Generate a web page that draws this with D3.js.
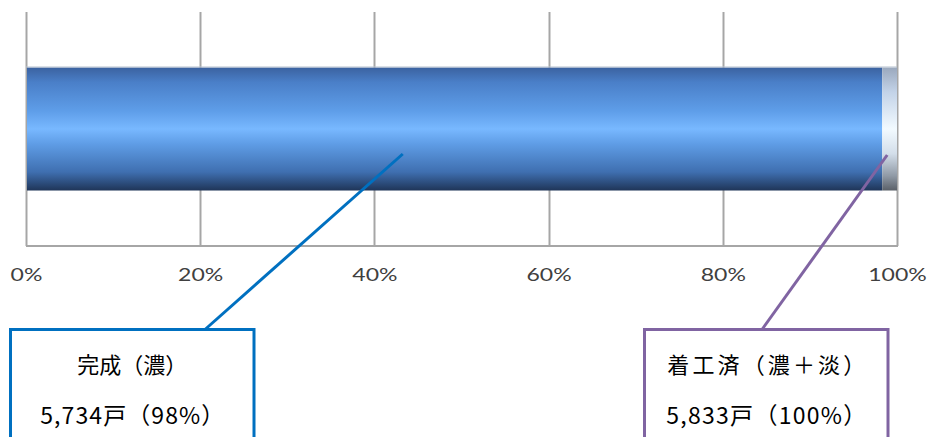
<!DOCTYPE html>
<html>
<head>
<meta charset="utf-8">
<script src="https://cdn.jsdelivr.net/npm/d3@7"></script>
<style>
  html, body { margin: 0; padding: 0; background: #fff; }
  svg { display: block; }
</style>
</head>
<body>
<svg id="chart" width="928" height="437"></svg>
<script>
// Housing progress: completed vs. started (units)
const segments = ["完成", "着工済（未完成）"];
const units = [5734, 99];
const total = 5833;
const tickValues = [0, 0.2, 0.4, 0.6, 0.8, 1.0];
const calloutTitles = ["完成（濃）", "着工済（濃＋淡）"];
const calloutValues = ["5,734戸（98%）", "5,833戸（100%）"];

const svg = d3.select("#chart");
const W = 928, H = 437;
const m = { left: 26, right: 31, top: 12 };
const plotBottom = 246;

const x = d3.scaleLinear().domain([0, 1]).range([m.left, W - m.right]);
const y = d3.scaleBand().domain(["row"]).range([m.top, plotBottom]).paddingInner(0).paddingOuter(0.451);

const defs = svg.append("defs");
const g1 = defs.append("linearGradient").attr("id", "gDark").attr("x1", 0).attr("y1", 0).attr("x2", 0).attr("y2", 1);
[[0, "#3b62a0"], [0.12, "#4a7fc8"], [0.35, "#5e9de8"], [0.5, "#78b8ff"], [0.62, "#5f9de6"], [0.85, "#3f6fb0"], [1, "#1f3558"]]
  .forEach(([o, c]) => g1.append("stop").attr("offset", o).attr("stop-color", c));
const g2 = defs.append("linearGradient").attr("id", "gLight").attr("x1", 0).attr("y1", 0).attr("x2", 0).attr("y2", 1);
[[0, "#9aa8bd"], [0.2, "#c3d3e8"], [0.5, "#f2faff"], [0.7, "#d3deea"], [0.88, "#909aa6"], [1, "#5a6068"]]
  .forEach(([o, c]) => g2.append("stop").attr("offset", o).attr("stop-color", c));

// vertical gridlines
svg.append("g").selectAll("line").data(tickValues).join("line")
  .attr("x1", d => Math.round(x(d)) + 0.5).attr("x2", d => Math.round(x(d)) + 0.5)
  .attr("y1", m.top).attr("y2", plotBottom)
  .attr("stroke", "#a6a6a6").attr("stroke-width", 2);

// bottom axis line
svg.append("line")
  .attr("x1", x(0)).attr("x2", x(1) + 1)
  .attr("y1", plotBottom).attr("y2", plotBottom)
  .attr("stroke", "#a6a6a6").attr("stroke-width", 2);

// stacked bar
const stacked = [];
let acc = 0;
units.forEach((u, i) => { stacked.push({ key: segments[i], x0: acc / total, x1: (acc + u) / total }); acc += u; });
svg.append("g").selectAll("rect").data(stacked).join("rect")
  .attr("x", d => x(d.x0) + (d.x0 === 0 ? 1 : 0))
  .attr("width", d => x(d.x1) - x(d.x0) - (d.x0 === 0 ? 1 : 0))
  .attr("y", y("row")).attr("height", y.bandwidth())
  .attr("fill", (d, i) => i === 0 ? "url(#gDark)" : "url(#gLight)");
// thin light edge above the bar
svg.append("line").attr("x1", x(0)).attr("x2", x(1)).attr("y1", y("row") - 0.5).attr("y2", y("row") - 0.5)
  .attr("stroke", "#b8c2d0").attr("stroke-width", 1);

// tick labels
const axis = d3.axisBottom(x).tickValues(tickValues).tickFormat(d3.format(".0%")).tickSize(0).tickPadding(0);
const ag = svg.append("g").attr("transform", `translate(0,${plotBottom + 22})`).call(axis);
ag.select(".domain").remove();
ag.selectAll("text")
  .attr("font-family", "Lato, 'Open Sans', sans-serif")
  .attr("font-size", 18).attr("fill", "#404040")
  .attr("transform", "scale(1.28,1)");

// callouts
const callouts = [
  { idx: 0, px: x(stacked[0].x1 * 0.44), py: 154, box: [10.5, 329.5, 243.5], color: "#0070c0", ax: 205, tw: [null, 184] },
  { idx: 1, px: x(stacked[0].x1) + 5, py: 155, box: [644.5, 329.5, 243.5], color: "#8064a2", ax: 762, tw: [198, 200] }
];
callouts.forEach(c => {
  const [bx, by, bw] = c.box;
  svg.append("line").attr("x1", c.px).attr("y1", c.py).attr("x2", c.ax).attr("y2", by)
    .attr("stroke", c.color).attr("stroke-width", 3);
  svg.append("rect").attr("x", bx).attr("y", by).attr("width", bw).attr("height", 140)
    .attr("fill", "#fff").attr("stroke", c.color).attr("stroke-width", 3);
  const cx = bx + bw / 2;
  const t1 = svg.append("text").attr("x", cx).attr("y", 373).attr("text-anchor", "middle")
    .attr("font-family", "'Noto Sans CJK JP', sans-serif").attr("font-size", 22).attr("fill", "#000")
    .text(calloutTitles[c.idx]);
  if (c.tw[0]) t1.attr("textLength", c.tw[0]).attr("lengthAdjust", "spacing");
  svg.append("text").attr("x", cx).attr("y", 424).attr("text-anchor", "middle")
    .attr("font-family", "'Noto Sans CJK JP', sans-serif").attr("font-size", 23).attr("fill", "#000")
    .attr("textLength", c.tw[1]).attr("lengthAdjust", "spacing")
    .text(calloutValues[c.idx]);
});
</script>
</body>
</html>
